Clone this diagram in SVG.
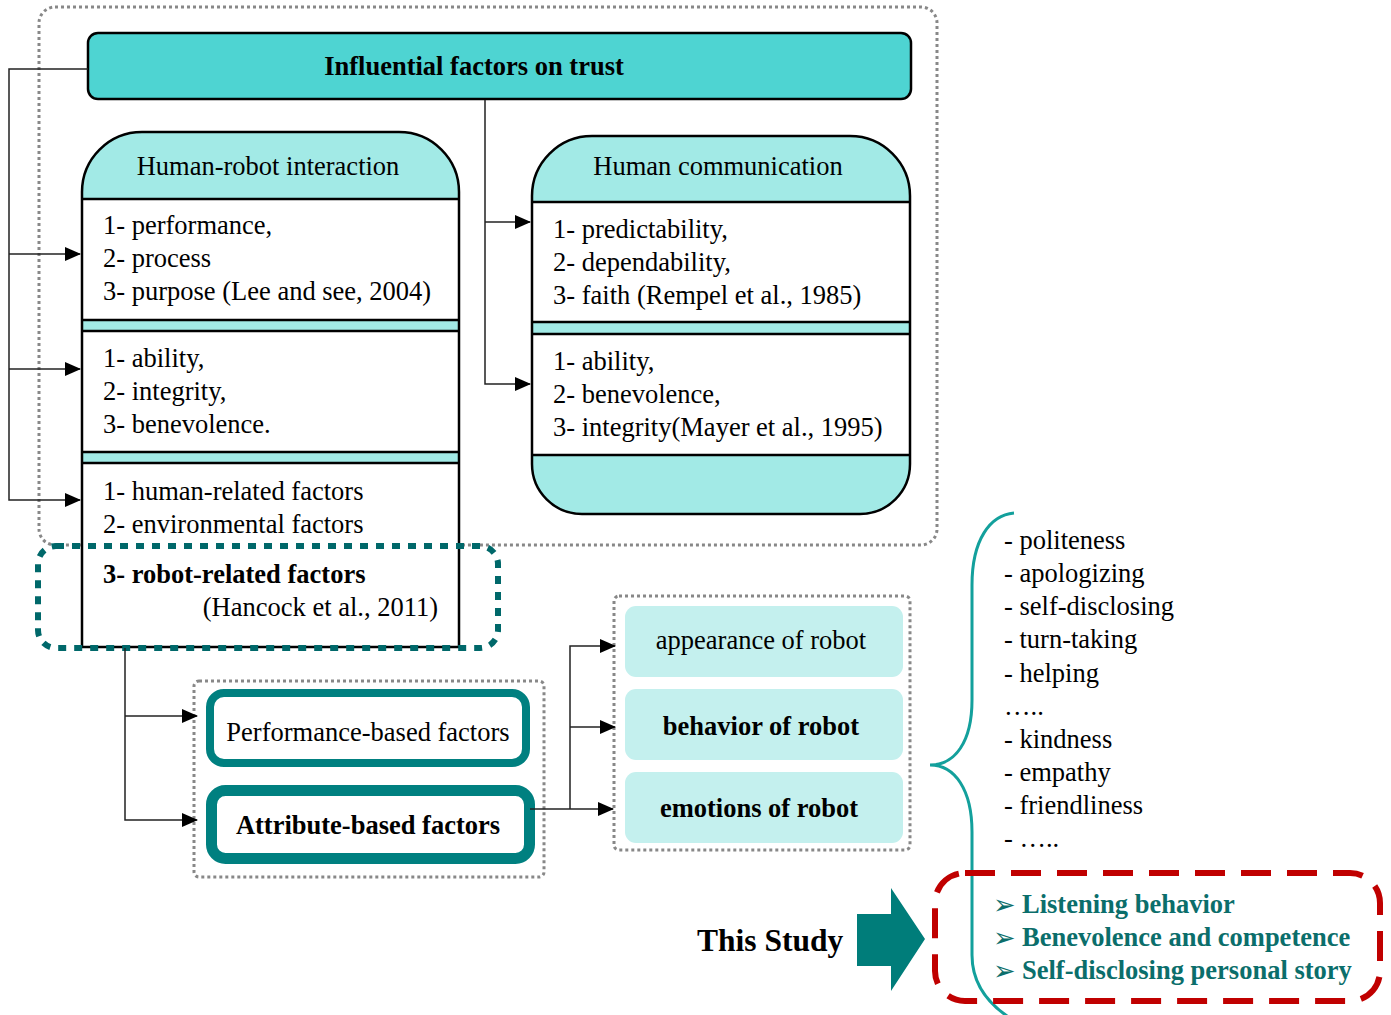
<svg xmlns="http://www.w3.org/2000/svg" width="1391" height="1015" viewBox="0 0 1391 1015">
<style>
text{font-family:"Liberation Serif","Times New Roman",serif;fill:#000}
.t{font-size:26.5px}
.b{font-weight:bold}
.ln{stroke:#000;stroke-width:2.5;fill:none}
.c{stroke:#222;stroke-width:1.5;fill:none}
.gd{stroke:#888;stroke-width:3;stroke-dasharray:3 3;fill:none}
.band{fill:#A2EAE6}
.lc{fill:#C4F0EE}
.tl{fill:#0B6E6B;font-weight:bold;font-size:26.5px}
.bu{fill:#0B6E6B;font-family:"DejaVu Sans",sans-serif;font-size:27px}
</style>
<defs>
<marker id="ar" markerUnits="userSpaceOnUse" markerWidth="16" markerHeight="14" refX="15" refY="7" orient="auto">
<path d="M0,0 L16,7 L0,14 Z" fill="#000"/>
</marker>
</defs>

<rect x="39" y="7" width="898" height="538" rx="16" class="gd"/>

<g id="header">
<rect x="88" y="33" width="823" height="66" rx="10" fill="#4ED4D2" stroke="#000" stroke-width="2.5"/>
<text x="474" y="75" text-anchor="middle" font-size="26.5" class="b">Influential factors on trust</text>
</g>

<g id="hri">
<path d="M82,647 V192 A60,60 0 0 1 142,132 H399 A60,60 0 0 1 459,192 V647 Z" fill="#fff"/>
<path d="M82,199 V192 A60,60 0 0 1 142,132 H399 A60,60 0 0 1 459,192 V199 Z" class="band"/>
<rect x="82" y="320" width="377" height="11" class="band"/>
<rect x="82" y="452" width="377" height="11" class="band"/>
<path d="M82,199 H459 M82,320 H459 M82,331 H459 M82,452 H459 M82,463 H459" class="ln"/>
<path d="M82,647 V192 A60,60 0 0 1 142,132 H399 A60,60 0 0 1 459,192 V647 Z" class="ln"/>
<text x="268" y="175" text-anchor="middle" class="t">Human-robot interaction</text>
<text x="103" y="234" class="t">1- performance,</text>
<text x="103" y="267" class="t">2- process</text>
<text x="103" y="300" class="t">3- purpose (Lee and see, 2004)</text>
<text x="103" y="367" class="t">1- ability,</text>
<text x="103" y="400" class="t">2- integrity,</text>
<text x="103" y="433" class="t">3- benevolence.</text>
<text x="103" y="500" class="t">1- human-related factors</text>
<text x="103" y="533" class="t">2- environmental factors</text>
<text x="103" y="583" class="t b">3- robot-related factors</text>
<text x="438" y="616" text-anchor="end" class="t">(Hancock et al., 2011)</text>
</g>

<rect id="robot-highlight" x="38" y="546" width="460" height="102" rx="18" fill="none" stroke="#00686A" stroke-width="6" stroke-dasharray="8 8"/>

<g id="hc">
<path d="M532,196 A60,60 0 0 1 592,136 H850 A60,60 0 0 1 910,196 V464 A50,50 0 0 1 860,514 H582 A50,50 0 0 1 532,464 Z" fill="#fff"/>
<path d="M532,202 V196 A60,60 0 0 1 592,136 H850 A60,60 0 0 1 910,196 V202 Z" class="band"/>
<rect x="532" y="322" width="378" height="12" class="band"/>
<path d="M532,455 H910 V464 A50,50 0 0 1 860,514 H582 A50,50 0 0 1 532,464 Z" class="band"/>
<path d="M532,202 H910 M532,322 H910 M532,334 H910 M532,455 H910" class="ln"/>
<path d="M532,196 A60,60 0 0 1 592,136 H850 A60,60 0 0 1 910,196 V464 A50,50 0 0 1 860,514 H582 A50,50 0 0 1 532,464 Z" class="ln"/>
<text x="718" y="175" text-anchor="middle" class="t">Human communication</text>
<text x="553" y="238" class="t">1- predictability,</text>
<text x="553" y="271" class="t">2- dependability,</text>
<text x="553" y="304" class="t">3- faith (Rempel et al., 1985)</text>
<text x="553" y="370" class="t">1- ability,</text>
<text x="553" y="403" class="t">2- benevolence,</text>
<text x="553" y="436" class="t">3- integrity(Mayer et al., 1995)</text>
</g>

<rect x="194" y="681" width="350" height="196" rx="5" class="gd"/>
<g id="performance">
<rect x="210" y="693" width="316" height="70" rx="14" fill="#fff" stroke="#008080" stroke-width="8"/>
<text x="368" y="741" text-anchor="middle" class="t">Performance-based factors</text>
</g>
<g id="attribute">
<rect x="211.5" y="790.5" width="318" height="68" rx="14" fill="#fff" stroke="#008080" stroke-width="11"/>
<text x="368" y="834" text-anchor="middle" class="t b">Attribute-based factors</text>
</g>

<rect x="614" y="596" width="296" height="254" rx="5" class="gd"/>
<g id="appearance">
<rect x="625" y="606" width="278" height="71" rx="11" class="lc"/>
<text x="761" y="649" text-anchor="middle" class="t">appearance of robot</text>
</g>
<g id="behavior">
<rect x="625" y="689" width="278" height="71" rx="11" class="lc"/>
<text x="761" y="735" text-anchor="middle" class="t b">behavior of robot</text>
</g>
<g id="emotions">
<rect x="625" y="772" width="278" height="71" rx="11" class="lc"/>
<text x="759" y="817" text-anchor="middle" class="t b">emotions of robot</text>
</g>

<g id="connectors">
<path d="M88,69 H9 V500 H80" class="c" marker-end="url(#ar)"/>
<path d="M9,254 H80" class="c" marker-end="url(#ar)"/>
<path d="M9,369 H80" class="c" marker-end="url(#ar)"/>
<path d="M485,100 V384 H530" class="c" marker-end="url(#ar)"/>
<path d="M485,222 H530" class="c" marker-end="url(#ar)"/>
<path d="M125,648 V820 H197" class="c" marker-end="url(#ar)"/>
<path d="M125,716 H197" class="c" marker-end="url(#ar)"/>
<path d="M530,809 H613" class="c" marker-end="url(#ar)"/>
<path d="M570,809 V646 H615" class="c" marker-end="url(#ar)"/>
<path d="M570,727 H615" class="c" marker-end="url(#ar)"/>
</g>

<g id="brace">
<path d="M1014,513 C990,515 972,540 972,585 V700 C972,742 955,765 930,765 C955,765 972,790 972,832 V955 C972,985 990,1005 1010,1018" fill="none" stroke="#13A09C" stroke-width="3"/>
</g>

<g id="list">
<text x="1004" y="549" class="t">- politeness</text>
<text x="1004" y="582" class="t">- apologizing</text>
<text x="1004" y="615" class="t">- self-disclosing</text>
<text x="1004" y="648" class="t">- turn-taking</text>
<text x="1004" y="682" class="t">- helping</text>
<text x="1004" y="715" class="t">…..</text>
<text x="1004" y="748" class="t">- kindness</text>
<text x="1004" y="781" class="t">- empathy</text>
<text x="1004" y="814" class="t">- friendliness</text>
<text x="1004" y="847" class="t">- …..</text>
</g>

<g id="this-study">
<text x="697" y="951" font-size="31.5" class="b">This Study</text>
<path d="M857,914 H891 V888 L925,939 L891,991 V966 H857 Z" fill="#007D7A"/>
</g>

<g id="study-box">
<rect x="935" y="873" width="445" height="128" rx="30" fill="none" stroke="#C00000" stroke-width="6" stroke-dasharray="30 16"/>
<text x="993" y="914" class="bu">➢</text>
<text x="1022" y="913" class="tl">Listening behavior</text>
<text x="993" y="947" class="bu">➢</text>
<text x="1022" y="946" class="tl">Benevolence and competence</text>
<text x="993" y="980" class="bu">➢</text>
<text x="1022" y="979" class="tl">Self-disclosing personal story</text>
</g>
</svg>
